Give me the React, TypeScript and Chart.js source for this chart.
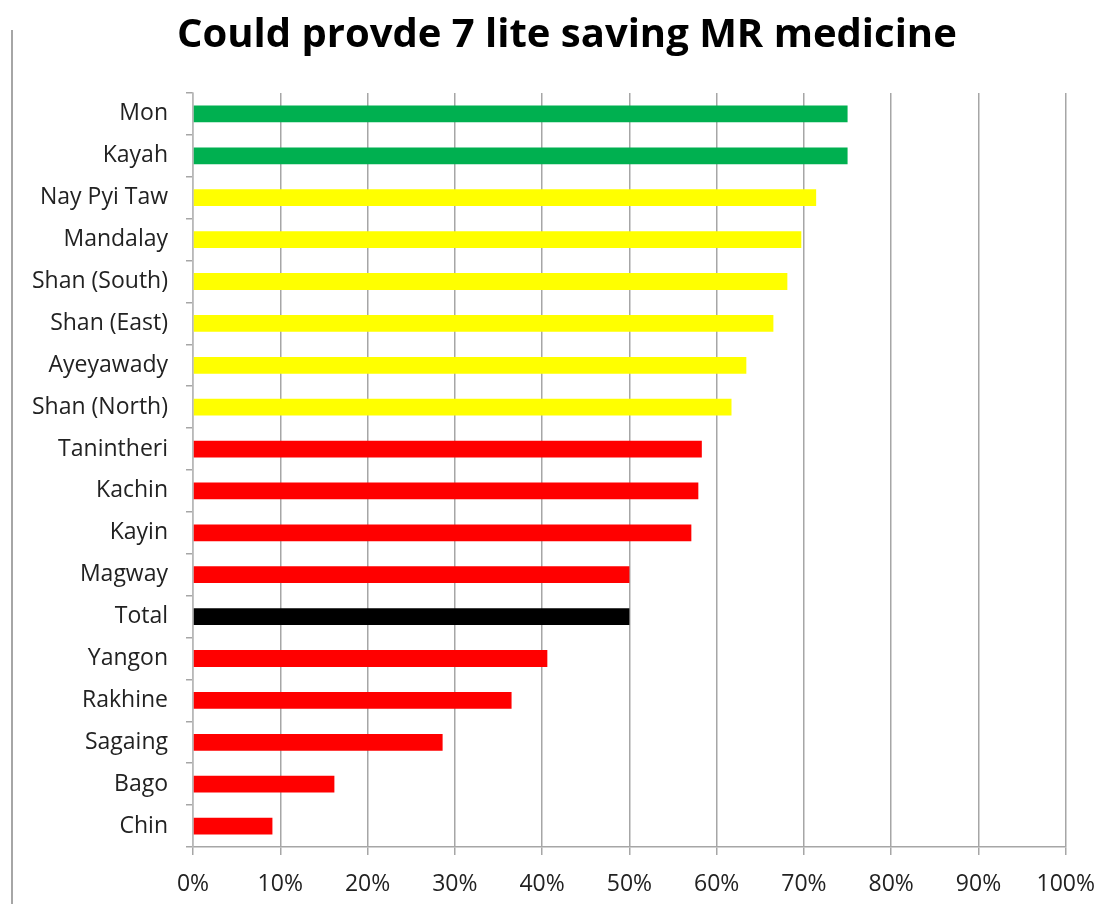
import React, { useEffect, useRef } from "react";
import { Chart, registerables } from "chart.js";

Chart.register(...registerables);

const TITLE = "Could provde 7 lite saving MR medicine";

const categories = [
  "Mon",
  "Kayah",
  "Nay Pyi Taw",
  "Mandalay",
  "Shan (South)",
  "Shan (East)",
  "Ayeyawady",
  "Shan (North)",
  "Tanintheri",
  "Kachin",
  "Kayin",
  "Magway",
  "Total",
  "Yangon",
  "Rakhine",
  "Sagaing",
  "Bago",
  "Chin",
];

const values = [
  75, 75, 71.4, 69.7, 68.1, 66.5, 63.4, 61.7, 58.3, 57.9, 57.1, 50, 50, 40.6,
  36.5, 28.6, 16.2, 9.1,
];

const colorGroups = [
  "green", "green", "yellow", "yellow", "yellow", "yellow", "yellow", "yellow",
  "red", "red", "red", "red", "black", "red", "red", "red", "red", "red",
];

const palette: Record<string, string> = {
  green: "#00b050",
  yellow: "#ffff00",
  red: "#ff0000",
  black: "#000000",
};

const xTicks = [0, 10, 20, 30, 40, 50, 60, 70, 80, 90, 100];

const shiftTitle = {
  id: "shiftTitle",
  afterLayout(chart: any) {
    const t = chart.titleBlock;
    if (t) {
      t.left = 70;
      t.right = chart.chartArea.right - 2;
    }
  },
};

export default function App() {
  const ref = useRef<HTMLCanvasElement | null>(null);

  useEffect(() => {
    if (!ref.current) return;
    const chart = new Chart(ref.current, {
      type: "bar",
      data: {
        labels: categories,
        datasets: [
          {
            data: values,
            backgroundColor: colorGroups.map((g) => palette[g]),
            borderWidth: 0,
            barPercentage: 0.8,
            categoryPercentage: 0.5,
          },
        ],
      },
      plugins: [shiftTitle],
      options: {
        indexAxis: "y",
        animation: false,
        responsive: false,
        maintainAspectRatio: false,
        layout: { padding: { left: 0, right: 41, top: 0, bottom: 0 } },
        plugins: {
          legend: { display: false },
          tooltip: { enabled: false },
          title: {
            display: true,
            text: TITLE,
            color: "#000000",
            font: { family: "Open Sans", size: 40, weight: "bold", lineHeight: 1.2 },
            padding: { top: 12, bottom: 33 },
          },
        },
        scales: {
          x: {
            min: 0,
            max: 100,
            afterBuildTicks: (axis: any) => {
              axis.ticks = xTicks.map((v) => ({ value: v }));
            },
            afterFit: (axis: any) => {
              axis.height = 57;
            },
            ticks: {
              callback: (v: any) => v + "%",
              color: "#222222",
              font: { family: "Open Sans", size: 23 },
              padding: 16,
              maxRotation: 0,
              autoSkip: false,
            },
            grid: {
              color: "#a6a6a6",
              lineWidth: 1.5,
              tickLength: 8,
              drawOnChartArea: true,
            },
            border: { color: "#a6a6a6", width: 1.5 },
          },
          y: {
            afterFit: (axis: any) => {
              axis.width = 193;
            },
            ticks: {
              color: "#222222",
              font: { family: "Open Sans", size: 23 },
              padding: 18,
              autoSkip: false,
            },
            grid: {
              offset: true,
              drawOnChartArea: false,
              tickLength: 7,
              color: "#a6a6a6",
              lineWidth: 1.5,
            },
            border: { color: "#b8b8b8", width: 1.5 },
          },
        },
      },
    });
    return () => chart.destroy();
  }, []);

  return (
    <div style={{ position: "absolute", left: 0, top: 0, width: 1111, height: 904, background: "#ffffff" }}>
      <div
        style={{
          position: "absolute",
          left: 11,
          top: 30,
          width: 0,
          height: 874,
          borderLeft: "2px solid #a6a6a6",
        }}
      />
      <canvas
        ref={ref}
        width={1111}
        height={904}
        style={{ position: "absolute", left: 0, top: 0, width: 1111, height: 904 }}
      />
    </div>
  );
}
